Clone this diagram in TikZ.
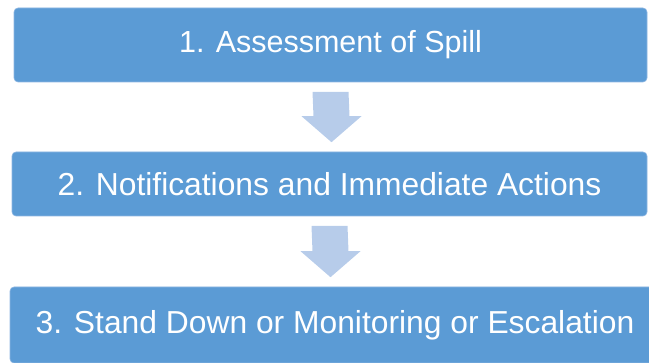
\documentclass[tikz,border=0pt]{standalone}
\usepackage{fontspec}
\setmainfont{Liberation Sans}
\usetikzlibrary{calc}

\definecolor{boxblue}{HTML}{5B9BD5}
\definecolor{boxedge}{HTML}{8DB6E2}
\definecolor{arrowblue}{HTML}{B7CCEA}

\tikzset{
	stagebox/.style={rectangle, rounded corners=4pt, fill=boxblue, draw=boxedge, line width=0.6pt,
		text=white, font=\fontsize{30.5}{36}\selectfont, inner sep=0pt},
	bigtext/.style={font=\fontsize{31.8}{38}\selectfont},
	blockarrow/.style={fill=arrowblue}
}

% block arrow from the box #1 down to the box #2
\newcommand{\stagearrow}[2]{%
	\coordinate (#1tip) at ($(#1.south |- #2.north)+(1,9.5)$);
	\fill[blockarrow] ($(#1.south)+(-18,-9.5)$) -- ++(36,0) -- ($(#1tip)+(18,26)$)
		-- ($(#1tip)+(30,26)$) -- (#1tip) -- ($(#1tip)+(-30,26)$) -- ($(#1tip)+(-18,26)$) -- cycle;
}

\begin{document}
\begin{tikzpicture}[x=1pt,y=1pt]
					\useasboundingbox (0,0) rectangle (649,363);
					\clip (0,0) rectangle (649,363);
					\node[stagebox, minimum width=633pt, minimum height=74pt] (assess) at (330.5,318) {1. Assessment of Spill};
					\node[stagebox, bigtext, minimum width=635pt, minimum height=64pt] (notify) at (329.5,179) {2. Notifications and Immediate Actions};
					\node[stagebox, bigtext, minimum width=650pt, minimum height=76pt] (standdown) at (335,38) {3. Stand Down or Monitoring or Escalation};
					\stagearrow{assess}{notify}
					\stagearrow{notify}{standdown}
				  \end{tikzpicture}
\end{document}
